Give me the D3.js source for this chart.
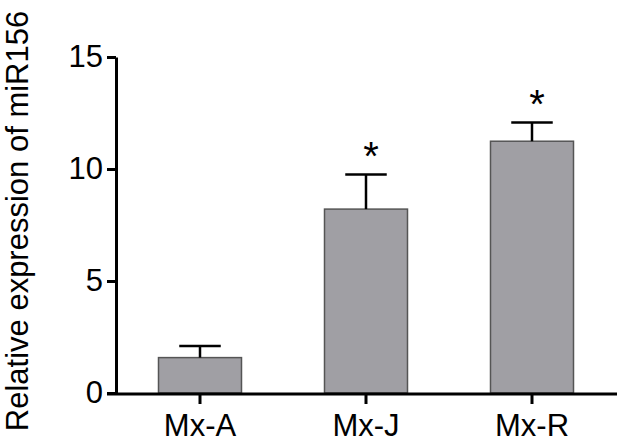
<!DOCTYPE html>
<html>
<head>
<meta charset="utf-8">
<script src="https://cdn.jsdelivr.net/npm/d3@7"></script>
<style>
  body { margin: 0; background: #fff; }
  text { font-family: "Liberation Sans", Arial, sans-serif; fill: #000; }
</style>
</head>
<body>
<script>
var categories = ['Mx-A', 'Mx-J', 'Mx-R'];
var means = [1.58, 8.21, 11.24];
var errors = [0.52, 1.55, 0.84];
var significant = [false, true, true];
var yTicks = [0, 5, 10, 15];

var width = 630;
var height = 444;

var svg = d3.select('body').append('svg')
  .attr('width', width)
  .attr('height', height);

var y = d3.scaleLinear()
  .domain([0, 15])
  .range([393, 57]);

var x = d3.scaleBand()
  .domain(categories)
  .range([117, 615])
  .paddingInner(0.5)
  .paddingOuter(0.25);

function center(d) {
  return x(d) + x.bandwidth() / 2;
}

// bars
svg.selectAll('.bar')
  .data(categories)
  .enter().append('rect')
    .attr('class', 'bar')
    .attr('x', function(d) { return x(d); })
    .attr('y', function(d, i) { return y(means[i]); })
    .attr('width', x.bandwidth())
    .attr('height', function(d, i) { return y(0) - y(means[i]); })
    .attr('fill', '#a09fa4')
    .attr('stroke', '#555')
    .attr('stroke-width', 1.5);

// error bars (upper only)
var err = svg.selectAll('.err')
  .data(categories)
  .enter().append('g')
    .attr('class', 'err')
    .attr('stroke', '#000')
    .attr('stroke-width', 2.5);

err.append('line')
  .attr('x1', center)
  .attr('x2', center)
  .attr('y1', function(d, i) { return y(means[i]); })
  .attr('y2', function(d, i) { return y(means[i] + errors[i]); });

err.append('line')
  .attr('x1', function(d) { return center(d) - x.bandwidth() / 4; })
  .attr('x2', function(d) { return center(d) + x.bandwidth() / 4; })
  .attr('y1', function(d, i) { return y(means[i] + errors[i]); })
  .attr('y2', function(d, i) { return y(means[i] + errors[i]); });

// significance stars
svg.selectAll('.star')
  .data(categories.filter(function(d, i) { return significant[i]; }))
  .enter().append('text')
    .attr('class', 'star')
    .attr('x', function(d) { return center(d) + 5; })
    .attr('y', function(d) {
      var i = categories.indexOf(d);
      return y(means[i] + errors[i]) - 4;
    })
    .attr('text-anchor', 'middle')
    .attr('font-size', 40)
    .text('*');

// y axis
var yAxis = svg.append('g')
  .attr('transform', 'translate(116,0)')
  .call(d3.axisLeft(y).tickValues(yTicks).tickSize(9).tickSizeOuter(0).tickPadding(4));

yAxis.select('.domain').attr('stroke-width', 3);
yAxis.selectAll('.tick line').attr('stroke-width', 3);
yAxis.selectAll('.tick text')
  .attr('font-size', 31)
  .attr('font-family', '"Liberation Sans", Arial, sans-serif');

// x axis
var xAxis = svg.append('g')
  .attr('transform', 'translate(0,394)')
  .call(d3.axisBottom(x).tickSize(10).tickSizeOuter(0).tickPadding(10));

xAxis.select('.domain').remove();
xAxis.append('line')
  .attr('x1', 107)
  .attr('x2', 617)
  .attr('stroke', '#000')
  .attr('stroke-width', 3);
xAxis.selectAll('.tick line').attr('stroke-width', 3);
xAxis.selectAll('.tick text')
  .attr('font-size', 31)
  .attr('font-family', '"Liberation Sans", Arial, sans-serif');

// y title
svg.append('text')
  .attr('transform', 'translate(28,221) rotate(-90)')
  .attr('text-anchor', 'middle')
  .attr('font-size', 31)
  .text('Relative expression of miR156');
</script>
</body>
</html>
